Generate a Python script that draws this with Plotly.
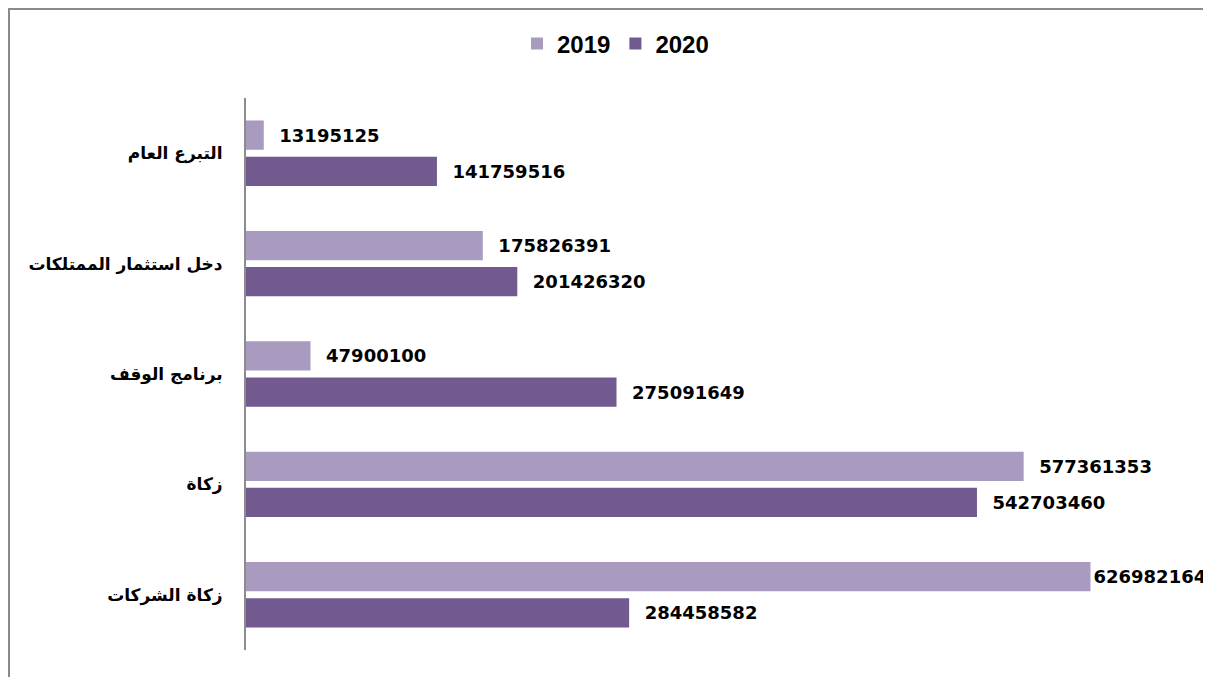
import plotly.graph_objects as go

categories = ["التبرع العام", "دخل استثمار الممتلكات", "برنامج الوقف", "زكاة", "زكاة الشركات"]
values_2019 = [13195125, 175826391, 47900100, 577361353, 626982164]
values_2020 = [141759516, 201426320, 275091649, 542703460, 284458582]

color_2019 = "#A99BBF"
color_2020 = "#72598F"

label_font = dict(family="DejaVu Sans", size=18, color="#000000", weight="bold")
top_value = max(values_2019 + values_2020)


def label_templates(values):
    # small gap between bar end and label, except the widest bar
    return ["%{x:d}" if v == top_value else "\u00a0\u00a0%{x:d}" for v in values]


fig = go.Figure()

fig.add_trace(
    go.Bar(
        y=categories,
        x=values_2019,
        orientation="h",
        name="2019",
        marker=dict(color=color_2019, line=dict(width=0)),
        texttemplate=label_templates(values_2019),
        textposition="outside",
        textfont=label_font,
        cliponaxis=False,
    )
)

fig.add_trace(
    go.Bar(
        y=categories,
        x=values_2020,
        orientation="h",
        name="2020",
        marker=dict(color=color_2020, line=dict(width=0)),
        texttemplate=label_templates(values_2020),
        textposition="outside",
        textfont=label_font,
        cliponaxis=False,
    )
)

# page has an 8px body margin, so the figure is drawn 8px smaller
W, H = 1203, 669
left_px, right_px, top_px, bottom_px = 238, 1197, 90, 642
pw = right_px - left_px
ph = bottom_px - top_px

fig.add_shape(type="line", xref="paper", yref="paper",
              x0=(0 - left_px) / pw, x1=(W - left_px) / pw,
              y0=(bottom_px - 1) / ph, y1=(bottom_px - 1) / ph,
              line=dict(color="#8a8a8a", width=2))
fig.add_shape(type="line", xref="paper", yref="paper",
              x0=(1 - left_px) / pw, x1=(1 - left_px) / pw,
              y0=(bottom_px - 1) / ph, y1=(bottom_px - H) / ph,
              line=dict(color="#8a8a8a", width=2))

fig.update_layout(
    width=W,
    height=H,
    barmode="group",
    bargap=0.345,
    bargroupgap=0.19,
    plot_bgcolor="white",
    paper_bgcolor="white",
    margin=dict(l=left_px, r=W - right_px, t=top_px, b=H - bottom_px),
    showlegend=True,
    legend=dict(
        orientation="h",
        xref="container",
        yref="container",
        x=0.505,
        xanchor="center",
        y=1 - 36 / H,
        yanchor="middle",
        font=dict(family="Liberation Sans", size=24, color="#000000", weight="bold"),
        itemwidth=30,
        traceorder="normal",
    ),
    xaxis=dict(
        visible=False,
        range=[0, 712e6],
        showgrid=False,
        zeroline=False,
    ),
    yaxis=dict(
        autorange="reversed",
        showline=True,
        linecolor="#8c8c8c",
        linewidth=2,
        showgrid=False,
        ticks="",
        ticklabelstandoff=18,
        tickfont=dict(family="DejaVu Sans", size=17, color="#000000", weight="bold"),
    ),
)

fig.write_html("out.html")
